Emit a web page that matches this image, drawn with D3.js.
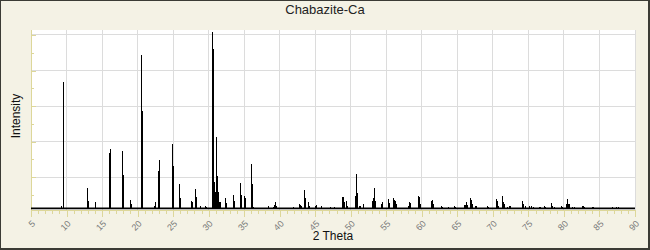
<!DOCTYPE html>
<html>
<head>
<meta charset="utf-8">
<script src="https://cdn.jsdelivr.net/npm/d3@7"></script>
<style>
  html, body { margin: 0; padding: 0; background: #fff; }
  svg { display: block; }
</style>
</head>
<body>
<svg id="chart" width="650" height="250"></svg>
<script>
// ---- data ----
const title = "Chabazite-Ca";
const xLabel = "2 Theta";
const yLabel = "Intensity";
const xTickValues = [5, 10, 15, 20, 25, 30, 35, 40, 45, 50, 55, 60, 65, 70, 75, 80, 85, 90];
const yGridValues = [20, 40, 60, 80, 100];
const yMinorValues = [10, 30, 50, 70, 90];
const background = 2.5;
const twoTheta = [
  9.26, 9.44, 9.56, 12.82, 12.96, 13.94, 15.91, 16.05, 17.74, 17.88, 19.00, 19.14,
  20.55, 20.69, 22.24, 22.38, 22.94, 23.08, 24.91, 25.05, 25.89, 26.03, 27.58, 27.72,
  28.14, 28.28, 28.76, 29.55, 29.69, 30.53, 30.67, 30.80, 30.90, 31.09, 31.19, 31.30,
  31.51, 31.65, 32.36, 32.50, 33.48, 33.62, 34.47, 34.61, 34.94, 35.08, 36.01, 36.15,
  36.29, 38.41, 38.55, 39.05, 39.15, 39.29, 39.43, 41.92, 42.67, 42.81, 42.95, 43.47,
  43.61, 44.03, 44.17, 44.90, 44.97, 45.11, 45.77, 47.08, 47.22, 47.64, 48.81, 48.95,
  49.09, 49.37, 49.51, 50.63, 50.78, 50.92, 51.20, 51.34, 51.76, 53.03, 53.17, 53.31,
  53.45, 54.29, 54.43, 55.27, 55.41, 55.98, 56.12, 56.26, 56.40, 58.05, 58.19, 58.33,
  59.49, 59.63, 59.77, 61.32, 61.46, 61.60, 62.73, 62.87, 63.70, 64.50, 64.64, 65.96,
  66.10, 66.24, 66.38, 66.80, 66.94, 67.08, 67.50, 67.64, 69.19, 69.33, 70.46, 70.60,
  70.74, 71.30, 71.44, 71.58, 72.00, 72.28, 72.42, 74.11, 74.25, 74.53, 75.10, 75.38,
  75.62, 76.56, 76.70, 77.16, 77.30, 78.19, 78.33, 78.62, 79.60, 79.74, 80.30, 80.44,
  80.58, 80.68, 81.10, 81.40, 82.50, 82.64, 82.78, 83.98, 84.12, 86.77, 87.30, 87.58
];
const intensity = [
  3.7, 73.6, 11.7, 14.0, 6.8, 6.3, 33.7, 35.9, 34.8, 21.5, 7.2, 4.9,
  88.9, 57.1, 3.8, 6.1, 23.4, 29.7, 38.7, 26.2, 16.2, 8.4, 6.5, 6.0,
  13.4, 8.9, 3.6, 3.6, 3.2, 101.7, 92.3, 17.4, 12.0, 42.7, 20.7, 12.0,
  6.1, 6.1, 8.2, 5.5, 10.2, 6.8, 17.0, 10.0, 9.5, 8.5, 27.5, 16.2,
  3.5, 3.8, 3.0, 3.5, 4.5, 6.1, 4.0, 3.5, 5.0, 4.2, 3.8, 12.9,
  8.2, 6.1, 3.8, 3.6, 4.0, 4.2, 4.0, 3.2, 3.0, 3.5, 8.8, 8.8,
  5.9, 6.7, 4.0, 9.7, 21.9, 11.3, 3.9, 3.9, 5.0, 6.5, 8.2, 14.0,
  6.5, 5.0, 5.9, 7.8, 5.4, 8.3, 7.0, 6.5, 5.0, 3.8, 5.9, 5.4,
  9.5, 8.8, 5.0, 6.8, 7.2, 5.0, 4.0, 3.2, 3.2, 3.8, 3.5, 4.4,
  4.4, 6.3, 4.4, 8.5, 7.4, 4.8, 3.6, 3.8, 4.0, 3.2, 7.8, 6.7,
  4.0, 9.5, 5.9, 4.8, 3.5, 3.6, 3.6, 6.8, 4.8, 3.8, 3.6, 4.0,
  3.2, 3.4, 3.4, 3.6, 3.4, 5.5, 3.6, 3.4, 3.8, 3.4, 4.9, 7.8,
  4.9, 4.9, 3.4, 3.4, 3.6, 3.6, 3.4, 3.4, 3.4, 3.2, 3.4, 3.2
];

// ---- layout ----
const W = 650, H = 250;
const plot = { left: 31, right: 635, top: 30, bottom: 210 };

const svg = d3.select("#chart");

// frame
svg.append("rect").attr("x", 0).attr("y", 0).attr("width", W).attr("height", H).attr("fill", "#3b3b35");
svg.append("rect").attr("x", 1).attr("y", 1).attr("width", W - 3).attr("height", H - 3).attr("fill", "#F4F2E5");

// plot area
svg.append("rect")
  .attr("x", plot.left).attr("y", plot.top)
  .attr("width", plot.right - plot.left).attr("height", plot.bottom - plot.top)
  .attr("fill", "#ffffff");

const x = d3.scaleLinear().domain([5, 90]).range([plot.left, plot.right]);
const y = d3.scaleLinear().domain([1.6, 102.8]).range([plot.bottom, plot.top]);

// grid
const grid = svg.append("g").attr("shape-rendering", "crispEdges").attr("stroke", "#dcdcdc").attr("stroke-width", 1);
grid.selectAll("line.v").data(xTickValues.filter(v => v > 5)).enter().append("line")
  .attr("x1", d => x(d)).attr("x2", d => x(d))
  .attr("y1", plot.top).attr("y2", plot.bottom);
grid.selectAll("line.h").data(yGridValues).enter().append("line")
  .attr("x1", plot.left).attr("x2", plot.right)
  .attr("y1", d => y(d)).attr("y2", d => y(d));

// x axis (ticks below plot)
const axisColor = "#ddd79a";
const xAxis = d3.axisBottom(x).tickValues(xTickValues).tickSize(7).tickFormat(d3.format("d"));
const xMinor = d3.axisBottom(x).tickValues(d3.range(5, 91, 1).filter(v => v % 5 !== 0)).tickSize(4).tickFormat("");
const gxMinor = svg.append("g").attr("transform", `translate(0,${plot.bottom})`).call(xMinor);
const gx = svg.append("g").attr("transform", `translate(0,${plot.bottom})`).call(xAxis);
[gx, gxMinor].forEach(g => {
  g.attr("shape-rendering", "crispEdges");
  g.select(".domain").attr("stroke", axisColor);
  g.selectAll(".tick line").attr("stroke", axisColor);
});
gxMinor.select(".domain").remove();
gx.selectAll(".tick text")
  .attr("fill", "#7a7a7a")
  .attr("font-family", "Liberation Sans, Arial, sans-serif")
  .attr("font-size", 9)
  .attr("text-anchor", "end")
  .attr("y", 0).attr("dy", "0.35em")
  .attr("transform", "translate(2,12) rotate(-45)");

// y axis (ticks inside, no labels)
const yAxis = d3.axisRight(y).tickValues(yGridValues).tickSize(5).tickFormat("");
const yMinorAxis = d3.axisRight(y).tickValues(yMinorValues).tickSize(3).tickFormat("");
const gy = svg.append("g").attr("transform", `translate(${plot.left},0)`).call(yAxis);
const gyMinor = svg.append("g").attr("transform", `translate(${plot.left},0)`).call(yMinorAxis);
[gy, gyMinor].forEach(g => {
  g.attr("shape-rendering", "crispEdges");
  g.select(".domain").attr("stroke", axisColor).attr("d", `M0,${plot.top}V${plot.bottom}`);
  g.selectAll(".tick line").attr("stroke", axisColor);
});

// pattern: baseline + sticks
const peaks = twoTheta.map((t, i) => ({ t, v: intensity[i] }));
svg.append("line")
  .attr("x1", x(5)).attr("x2", x(90))
  .attr("y1", y(background)).attr("y2", y(background))
  .attr("stroke", "#000").attr("stroke-width", 1.6);
svg.append("g").attr("shape-rendering", "crispEdges")
  .selectAll("line").data(peaks).enter().append("line")
  .attr("x1", d => Math.round(x(d.t)) + 0.5).attr("x2", d => Math.round(x(d.t)) + 0.5)
  .attr("y1", y(background)).attr("y2", d => y(d.v))
  .attr("stroke", "#000").attr("stroke-width", 1);

// texts
svg.append("text").text(title)
  .attr("x", 325).attr("y", 14)
  .attr("text-anchor", "middle")
  .attr("font-family", "Liberation Sans, Arial, sans-serif")
  .attr("font-size", 13).attr("fill", "#222");
svg.append("text").text(xLabel)
  .attr("x", 333).attr("y", 240)
  .attr("text-anchor", "middle")
  .attr("font-family", "Liberation Sans, Arial, sans-serif")
  .attr("font-size", 12).attr("fill", "#111");
svg.append("text").text(yLabel)
  .attr("transform", `translate(20,116) rotate(-90)`)
  .attr("text-anchor", "middle")
  .attr("font-family", "Liberation Sans, Arial, sans-serif")
  .attr("font-size", 12).attr("fill", "#111");
</script>
</body>
</html>
